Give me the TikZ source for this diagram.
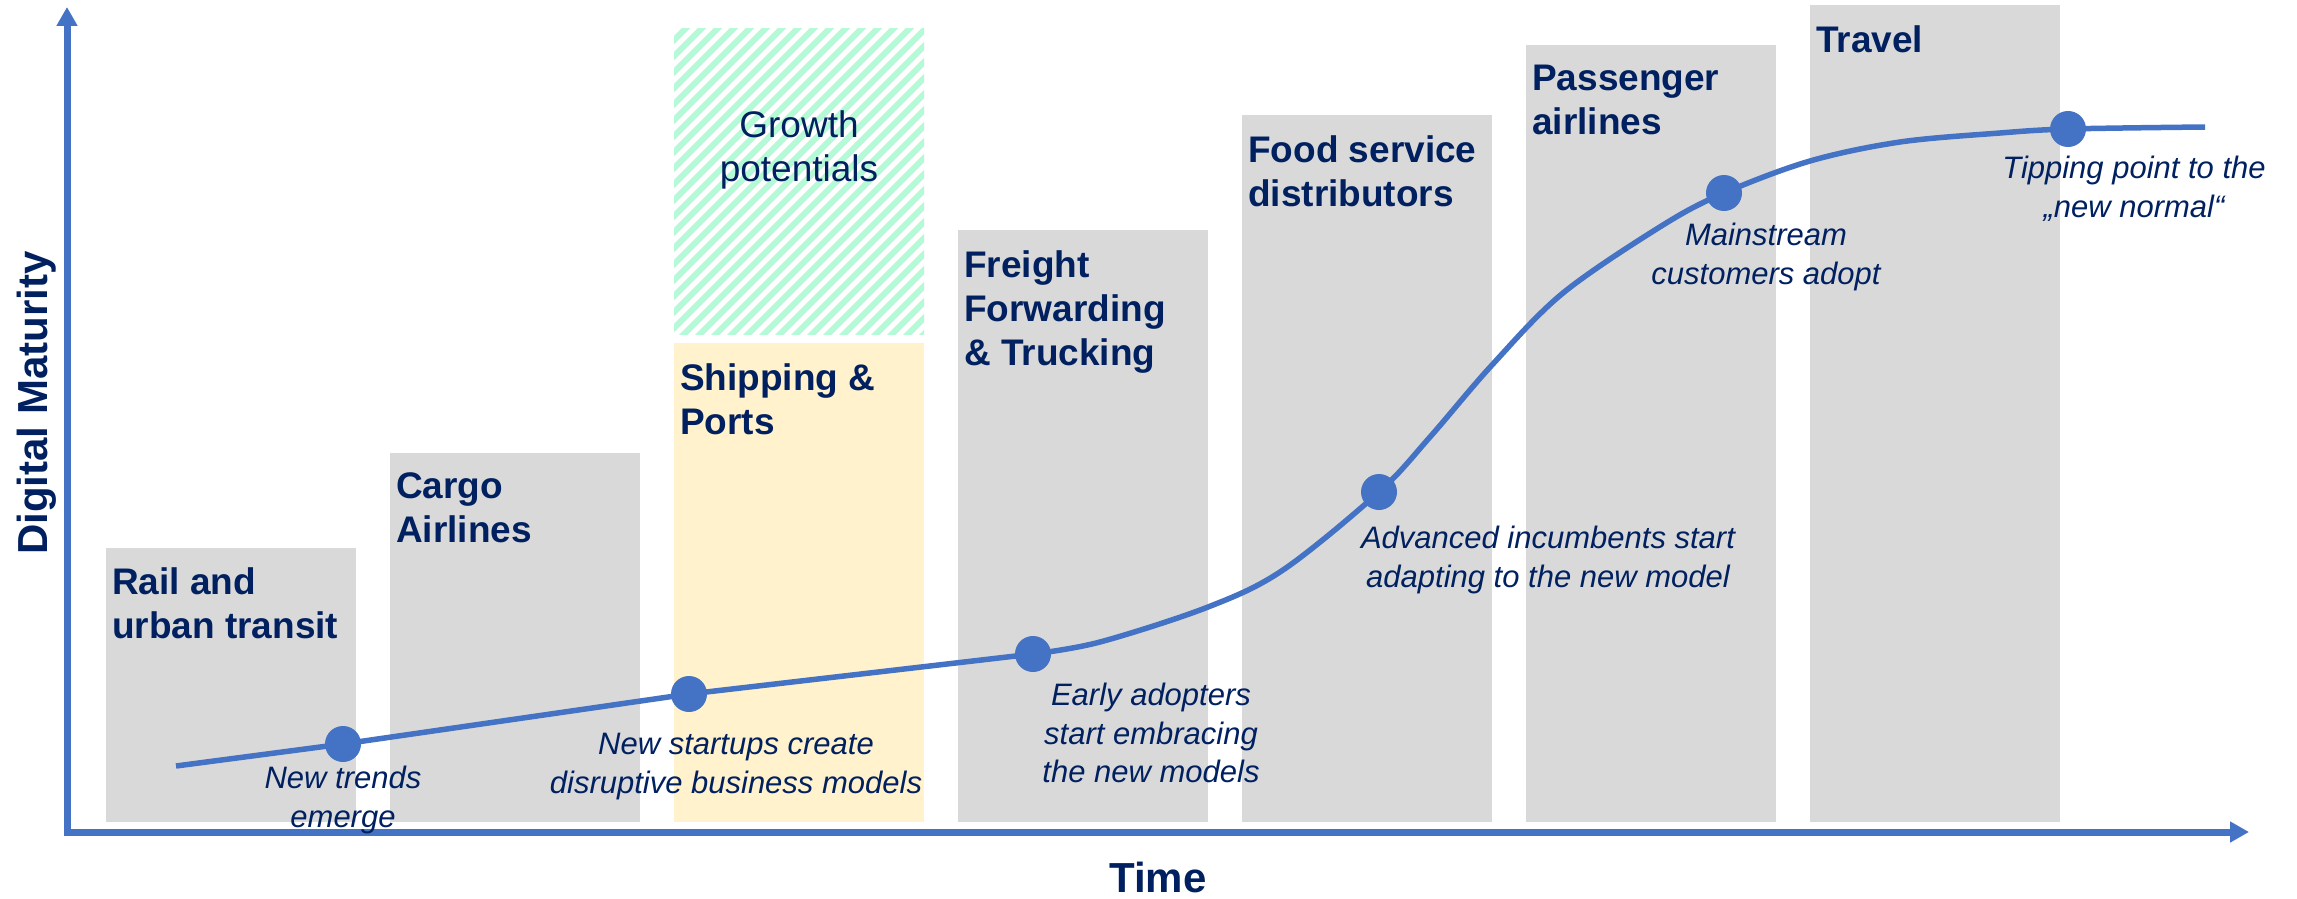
\documentclass[tikz,border=0pt]{standalone}
\usepackage{fontspec}
\setmainfont{Liberation Sans}
\usetikzlibrary{arrows.meta}
\definecolor{navy}{HTML}{002060}
\definecolor{curveblue}{HTML}{4472C4}
\definecolor{bargray}{HTML}{D9D9D9}
\definecolor{paleyellow}{HTML}{FFF2CC}
\definecolor{mint}{RGB}{180,250,215}
\begin{document}
\begin{tikzpicture}[x=1pt,y=-1pt,
  bartitle/.style={anchor=north west, inner sep=0pt, align=left, text=navy,
    font=\fontsize{37}{44}\selectfont\bfseries},
  note/.style={anchor=north, inner sep=0pt, align=center, text=navy,
    font=\fontsize{31}{38.5}\selectfont\itshape},
  dotnode/.style={circle, fill=curveblue, inner sep=0pt, minimum size=36pt},
  axisline/.style={draw=curveblue, line width=7pt, line join=miter,
    {Triangle[length=19pt,width=20pt]}-{Triangle[length=19pt,width=20pt]}},
  curveline/.style={draw=curveblue, line width=5.5pt},
  barfill/.style={fill=bargray}]
\useasboundingbox (0,0) rectangle (2297,899);

% bars
\fill[barfill] (106,548) rectangle (356,822);
\fill[barfill] (390,453) rectangle (640,822);
\fill[fill=paleyellow] (674,343) rectangle (924,822);
\fill[barfill] (958,230) rectangle (1208,822);
\fill[barfill] (1242,115) rectangle (1492,822);
\fill[barfill] (1526,45) rectangle (1776,822);
\fill[barfill] (1810,5) rectangle (2060,822);

% hatched growth area
\begin{scope}
  \clip (674,29) rectangle (924,334);
  \foreach \k in {0,16,...,592} {
    \draw[mint, line width=6pt] (674-320+\k,344) -- ++(340,-340);
  }
\end{scope}

% curve points
\coordinate (p0) at (176,766);
\coordinate (p1) at (343,744);
\coordinate (p2) at (689,694);
\coordinate (p3) at (1033,654);
\coordinate (p4) at (1379,492);
\coordinate (p5) at (1724,193);
\coordinate (p6) at (2068,129);
\coordinate (pe) at (2205,127);

\draw[curveline] (p0) -- (p1) -- (p2) -- (p3);
\draw[curveline] plot[smooth, tension=0.55] coordinates {(p3) (1100,642) (1208,607) (1283,570) (p4) (1430,437) (1492,365) (1563,293) (1663,225) (p5) (1810,161) (1900,142) (2000,133) (p6) (pe)};

\node[dotnode] (d1) at (p1) {};
\node[dotnode] (d2) at (p2) {};
\node[dotnode] (d3) at (p3) {};
\node[dotnode] (d4) at (p4) {};
\node[dotnode] (d5) at (p5) {};
\node[dotnode] (d6) at (p6) {};

% axes
\coordinate (ytop) at (67,7);
\coordinate (orig) at (67,832);
\coordinate (xend) at (2249,832);
\draw[axisline] (ytop) -- (orig) -- (xend);

% bar titles
\node[bartitle] (t1) at (112,567) {Rail and\\urban transit};
\node[bartitle] (t2) at (396,472) {Cargo\\Airlines};
\node[bartitle] (t3) at (680,363) {Shipping \&\\Ports};
\node[bartitle] (t4) at (964,250) {Freight\\Forwarding\\\& Trucking};
\node[bartitle] (t5) at (1248,135) {Food service\\distributors};
\node[bartitle] (t6) at (1532,65) {Passenger\\airlines};
\node[bartitle] (t7) at (1816,25) {Travel};

\node[anchor=north, inner sep=0pt, align=center, text=navy,
  font=\fontsize{37}{44}\selectfont] (growth) at (799,110) {Growth\\potentials};

% notes
\node[note] (n1) at (343,766) {New trends\\emerge};
\node[note] (n2) at (736,733) {New startups create\\disruptive business models};
\node[note] (n3) at (1151,683) {Early adopters\\start embracing\\the new models};
\node[note] (n4) at (1548,526) {Advanced incumbents start\\adapting to the new model};
\node[note] (n5) at (1766,223) {Mainstream\\customers adopt};
\node[note] (n6) at (2134,156) {Tipping point to the\\„new normal“};

% axis labels
\node[inner sep=0pt, text=navy, font=\fontsize{42}{50}\selectfont\bfseries,
  anchor=north] (xlab) at (1158,862) {Time};
\node[inner sep=0pt, text=navy, font=\fontsize{42}{50}\selectfont\bfseries,
  rotate=90] (ylab) at (37,403) {Digital Maturity};
\end{tikzpicture}
\end{document}
